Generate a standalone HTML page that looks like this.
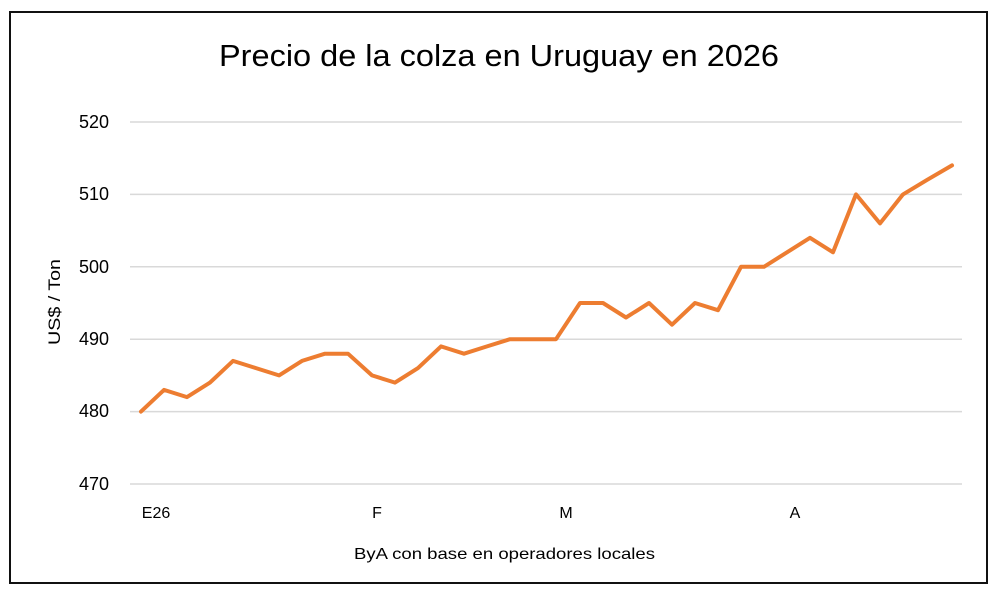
<!DOCTYPE html>
<html><head><meta charset="utf-8"><style>
html,body{margin:0;padding:0;background:#fff;width:1000px;height:596px;overflow:hidden}
svg{display:block}
text{font-family:"Liberation Sans",sans-serif;fill:#000}
</style></head><body>
<svg width="1000" height="596" viewBox="0 0 1000 596">
<rect x="10" y="12" width="977" height="571" fill="#fff" stroke="#111" stroke-width="2"/>
<text x="219" y="66" font-size="31" textLength="560" lengthAdjust="spacingAndGlyphs" fill="#111">Precio de la colza en Uruguay en 2026</text>
<g stroke="#d9d9d9" stroke-width="1.5">
<line x1="130" x2="962" y1="122" y2="122"/>
<line x1="130" x2="962" y1="194.4" y2="194.4"/>
<line x1="130" x2="962" y1="266.8" y2="266.8"/>
<line x1="130" x2="962" y1="339.2" y2="339.2"/>
<line x1="130" x2="962" y1="411.6" y2="411.6"/>
<line x1="130" x2="962" y1="484" y2="484"/>
</g>
<g font-size="18" text-anchor="end" fill="#333">
<text x="109" y="128">520</text>
<text x="109" y="200">510</text>
<text x="109" y="273">500</text>
<text x="109" y="345">490</text>
<text x="109" y="417">480</text>
<text x="109" y="490">470</text>
</g>
<text transform="translate(60,302) rotate(-90)" font-size="17" text-anchor="middle" textLength="86" lengthAdjust="spacingAndGlyphs">US$ / Ton</text>
<g font-size="16" text-anchor="middle">
<text x="156" y="518">E26</text>
<text x="377" y="518">F</text>
<text x="566" y="518">M</text>
<text x="795" y="518">A</text>
</g>
<text x="354" y="559" font-size="16" textLength="301" lengthAdjust="spacingAndGlyphs">ByA con base en operadores locales</text>
<polyline fill="none" stroke="#ED7D31" stroke-width="4" stroke-linejoin="round" stroke-linecap="round" points="
141,411.6 164,389.9 187,397.1 210,382.6 233,360.9 256,368.1 279,375.4 302,360.9 325,353.7 348,353.7
372,375.4 395,382.6 418,368.1 441,346.4 464,353.7 487,346.4 510,339.2 533,339.2 556,339.2 580,303
603,303 626,317.5 649,303 672,324.7 695,303 718,310.2 741,266.8 764,266.8 787,252.3 810,237.8
833,252.3 856,194.4 880,223.4 903,194.4 927,179.9 952,165.4"/>
</svg>
</body></html>
